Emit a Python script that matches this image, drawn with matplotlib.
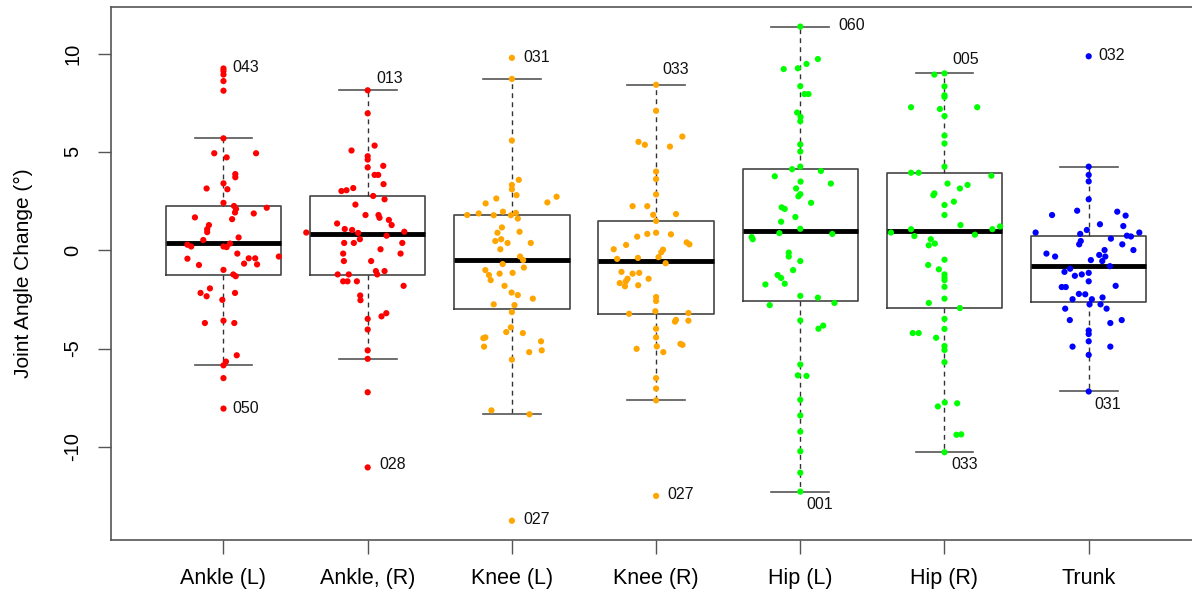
import matplotlib.pyplot as plt

plt.rcParams['font.family'] = ['Liberation Sans', 'DejaVu Sans']

groups = ['Ankle (L)', 'Ankle, (R)', 'Knee (L)', 'Knee (R)', 'Hip (L)', 'Hip (R)', 'Trunk']
colors = ['#ff0000', '#ff0000', '#ffa500', '#ffa500', '#00ff00', '#00ff00', '#0000ff']

# joint angle change per subject (deg), and the horizontal jitter of each dot
ankle_l = [9.24, 9.11, 8.93, 8.60, 8.11, 5.69, 4.93, 4.93, 4.72, 3.87, 3.71, 3.14, 3.40, 3.10,
           2.41, 2.25, 2.16, 2.10, 1.92, 1.87, 1.67, 1.58, 1.28, 1.07, 0.92, 0.65, 0.52, 0.28,
           0.19, 0.19, 0.16, 0.34, -0.17, -0.43, -0.41, -0.41, -0.32, -0.68, -0.72, -0.75,
           -1.00, -1.23, -1.32, -1.94, -2.17, -2.34, -2.17, -2.52, -3.70, -3.58, -3.70, -5.34,
           -5.66, -5.85, -6.50, -8.05]
ankle_l_jit = [0, 0, 0, 0, 0, 0, -0.064, 0.226, 0.022, 0.082, 0.082, -0.117, 0, 0.027,
               0, 0.073, 0.30, 0.087, 0.08, 0.21, -0.198, 0.06, -0.101, -0.113, -0.113, 0.105, -0.14, -0.25,
               -0.224, 0, 0.022, 0.045, 0.096, -0.25, 0.175, 0.22, 0.384, 0.143, 0.233, -0.17,
               0, 0.068, 0.085, -0.094, -0.159, -0.117, 0.08, -0.008, -0.129, 0, 0.075, 0.092,
               0.017, 0, 0, 0]

ankle_r = [8.13, 6.96, 5.32, 5.07, 4.78, 4.61, 4.21, 4.29, 3.83, 3.83, 3.36, 3.01, 3.05, 3.16,
           2.76, 2.59, 2.32, 1.79, 1.79, 1.65, 1.54, 1.28, 1.36, 1.08, 1.03, 0.88, 0.90, 0.94,
           0.74, 0.56, 0.37, 0.37, 0.37, 0.05, -0.17, -0.17, -0.55, -0.55, -1.06, -1.23, -1.06,
           -1.23, -1.23, -1.58, -1.58, -1.58, -1.81, -2.30, -2.54, -3.20, -3.36, -3.49, -4.03,
           -5.09, -5.52, -7.22, -11.04]
ankle_r_jit = [0, 0, 0.048, -0.112, 0, 0, 0, 0.108, 0.048, 0.073, 0.11, -0.182, -0.147, -0.10,
               0.038, 0.117, -0.085, -0.015, 0.075, 0.082, 0.147, 0.166, -0.212, -0.159, -0.108, -0.066, -0.426, 0.254,
               0.131, -0.054, -0.163, -0.096, 0.24, 0.089, -0.17, 0.228, -0.165, 0.024, 0.057, 0.066, 0.117,
               -0.208, -0.131, -0.17, -0.14, -0.075, 0.249, -0.052, -0.05, 0.129, 0.096, 0, 0,
               0, 0, 0, 0]

knee_l = [9.78, 8.71, 5.58, 3.58, 3.32, 3.10, 2.80, 2.63, 2.72, 2.43, 2.38, 1.79, 1.87, 1.78,
          1.96, 1.78, 1.90, 1.61, 1.16, 0.94, 0.89, 0.47, 0.56, 0.37, 0.37, 0.05, -0.32, -0.50,
          -0.70, -0.88, -1.01, -1.26, -1.19, -1.15, -1.52, -1.81, -2.15, -2.28, -2.46, -2.75,
          -2.79, -3.14, -3.92, -4.16, -4.21, -4.47, -4.43, -4.90, -4.63, -5.09, -5.18, -5.56,
          -8.14, -8.34, -13.75]
knee_l_jit = [0, 0, 0, 0.048, 0, 0, 0.032, -0.108, 0.31, 0.246, -0.182, -0.31, -0.23, -0.126,
              -0.062, -0.007, 0.028, 0.041, -0.069, 0.053, -0.10, -0.115, -0.074, -0.03, 0.131, -0.080, 0.057, 0.078,
              -0.064, 0.083, -0.184, -0.159, -0.085, 0.005, -0.147, -0.051, -0.002, 0.041, 0.145, -0.126,
              0.018, 0, -0.007, -0.039, 0.076, -0.198, -0.184, -0.193, 0.202, 0.207, 0.12, 0,
              -0.142, 0.122, 0]

knee_r = [8.41, 7.09, 5.78, 5.51, 5.36, 5.27, 4.00, 3.62, 2.84, 2.24, 2.24, 1.80, 1.84, 1.49,
          0.89, 0.83, 0.69, 0.81, 0.40, 0.30, 0.27, 0.05, 0.03, -0.10, -0.35, -0.44, -0.39, -0.66,
          -1.10, -1.19, -1.15, -1.45, -1.58, -1.67, -1.83, -1.78, -1.45, -2.38, -2.58, -3.23,
          -3.10, -3.19, -3.58, -3.63, -3.54, -3.99, -4.43, -4.89, -5.01, -5.18, -4.76, -4.81,
          -6.50, -7.03, -7.63, -12.49]
knee_r_jit = [0, 0, 0.182, -0.122, -0.078, 0.096, 0, 0, 0, -0.163, -0.061, -0.02, 0.138, 0,
              0, -0.061, -0.131, 0.103, 0.212, 0.231, -0.208, -0.294, 0.048, 0.036, 0.017, -0.27, -0.126, 0.066,
              -0.24, -0.163, -0.117, -0.198, -0.21, -0.252, -0.216, -0.124, -0.052, 0, 0, -0.187,
              -0.005, 0.224, 0.224, 0.131, 0.138, 0, 0, 0.005, -0.135, 0.05, 0.169, 0.183,
              0, 0, 0, 0]

hip_l = [11.37, 9.72, 9.21, 9.25, 9.47, 8.34, 7.94, 7.94, 7.00, 6.78, 6.56, 5.38, 5.02, 4.25,
         4.12, 4.03, 3.76, 3.49, 3.39, 3.14, 2.85, 2.74, 2.41, 2.18, 2.10, 1.69, 1.45, 1.09,
         0.87, 0.83, 0.67, 0.56, -0.12, -0.32, -0.55, -1.01, -1.26, -1.41, -1.70, -1.74,
         -2.32, -2.41, -2.68, -2.79, -3.57, -3.99, -3.83, -5.81, -6.36, -6.39, -7.60, -8.40,
         -9.22, -10.22, -11.31, -12.27]
hip_l_jit = [0, 0.122, -0.115, -0.017, 0.043, 0, 0.029, 0.057, -0.022, 0.002, 0, 0, 0, 0,
             -0.057, 0.143, -0.177, 0.002, 0.212, -0.029, 0, -0.013, 0.075, -0.129, -0.108, -0.034, -0.133, 0,
             -0.145, 0.222, -0.337, -0.33, -0.08, -0.08, 0, -0.05, -0.157, -0.133, -0.108, -0.242,
             0, 0.122, 0.237, -0.212, 0, 0.126, 0.159, 0, -0.017, 0.043, 0, 0,
             0, 0, 0, 0]

hip_r = [8.93, 8.99, 8.33, 7.88, 7.79, 7.27, 7.27, 7.18, 6.82, 5.83, 5.43, 4.25, 3.94, 3.94,
         3.79, 3.39, 3.32, 3.14, 2.89, 2.80, 2.47, 2.30, 1.79, 1.28, 1.21, 1.07, 1.07, 0.90,
         0.72, 0.79, 0.56, 0.34, 0.25, -0.48, -0.75, -0.97, -1.23, -1.39, -1.52, -1.86,
         -2.46, -2.68, -2.94, -3.49, -4.00, -4.21, -4.21, -4.45, -4.87, -5.07, -5.69, -7.74,
         -7.94, -7.78, -9.38, -9.36, -10.27]
hip_r_jit = [-0.07, 0, 0, 0, 0, -0.232, 0.227, -0.032, 0, 0, 0, 0, -0.232, -0.179,
             0.325, 0.021, 0.16, 0.107, -0.07, -0.077, 0.065, 0, 0, 0.111, 0.385, 0.332, -0.232, -0.371,
             -0.209, 0.211, -0.095, -0.067, -0.109, 0, -0.113, -0.039, 0, 0, 0, 0,
             0, -0.109, 0.107, 0, 0, -0.22, -0.179, -0.058, 0, 0, 0, 0.002,
             -0.046, 0.088, 0.083, 0.116, 0]

trunk = [9.86, 4.25, 3.83, 3.50, 2.59, 1.79, 2.01, 1.96, 1.76, 1.32, 1.23, 1.03, 0.90, 0.90,
         0.83, 0.74, 0.70, 0.59, 0.47, 0.30, 0.30, 0.01, 0.01, -0.17, -0.32, -0.24, -0.32, -0.50,
         -0.55, -0.81, -0.94, -1.10, -1.30, -1.23, -1.15, -1.58, -1.87, -1.87, -1.81, -2.22,
         -2.24, -2.49, -2.49, -2.40, -2.75, -2.75, -2.97, -2.97, -3.55, -3.55, -3.70, -4.08,
         -4.26, -4.63, -4.90, -4.90, -5.32, -7.18]
trunk_jit = [0, 0, 0, 0, 0, -0.254, -0.08, 0.198, 0.256, 0.078, 0.24, -0.013, -0.368, 0.351,
             -0.059, 0.265, 0.293, 0.154, -0.055, -0.066, 0.233, 0.31, 0.11, -0.293, -0.233, 0.073, 0.115, 0.015,
             0.094, 0.147, -0.129, -0.168, -0.096, -0.048, 0, 0, -0.187, -0.159, 0.187, -0.068,
             -0.024, -0.112, 0.022, 0.096, 0.006, 0.082, -0.163, 0.124, -0.131, 0.229, 0.15, 0,
             0, 0, -0.112, 0.15, 0, 0]

values = [ankle_l, ankle_r, knee_l, knee_r, hip_l, hip_r, trunk]
jitter = [ankle_l_jit, ankle_r_jit, knee_l_jit, knee_r_jit, hip_l_jit, hip_r_jit, trunk_jit]

# box statistics as drawn (R style hinges)
medians = [0.38, 0.81, -0.50, -0.55, 0.98, 0.98, -0.81]
q1 = [-1.26, -1.26, -3.01, -3.26, -2.57, -2.93, -2.61]
q3 = [2.23, 2.74, 1.79, 1.47, 4.14, 3.92, 0.74]
whis_lo = [-5.85, -5.52, -8.34, -7.63, -12.27, -10.27, -7.18]
whis_hi = [5.69, 8.13, 8.71, 8.41, 11.37, 8.99, 4.25]

# labelled subjects: group index, id, text position (x offset from group, y)
lab_group = [0, 0, 1, 1, 2, 2, 3, 3, 4, 4, 5, 5, 6, 6]
lab_text = ['043', '050', '013', '028', '031', '027', '033', '027', '060', '001', '005', '033', '032', '031']
lab_dx = [0.064, 0.059, 0.057, 0.078, 0.079, 0.079, 0.045, 0.078, 0.267, 0.04, 0.058, 0.05, 0.064, 0.038]
lab_y = [9.28, -8.03, 8.71, -10.91, 9.78, -13.68, 9.2, -12.40, 11.40, -12.94, 9.69, -10.91, 9.89, -7.82]

fig = plt.figure(figsize=(11.92, 5.94), dpi=100)
# the right edge of the plot box is cut off in the original
ax = fig.add_axes([111 / 1192, 54 / 594, (1220 - 111) / 1192, 532.7 / 594])

stats = []
for i in range(len(groups)):
    stats.append({'med': medians[i], 'q1': q1[i], 'q3': q3[i],
                  'whislo': whis_lo[i], 'whishi': whis_hi[i], 'fliers': []})

pos = list(range(1, len(groups) + 1))
ax.bxp(stats, positions=pos, widths=0.8, showfliers=False,
       boxprops=dict(color='#444444', linewidth=1.2),
       medianprops=dict(color='black', linewidth=3.5),
       whiskerprops=dict(color='#333333', linewidth=1.0, linestyle=(0, (3.5, 3))),
       capprops=dict(color='#555555', linewidth=1.2))

for i in range(len(groups)):
    xs = [pos[i] + j for j in jitter[i]]
    ax.scatter(xs, values[i], s=20, color=colors[i], edgecolors='none', zorder=3)

for g, t, dx, y in zip(lab_group, lab_text, lab_dx, lab_y):
    ax.text(pos[g] + dx, y, t, fontsize=11.5, ha='left', va='center', color='#111111')

ax.set_xlim(0.22, 1 + (1220 - 223.5) / 144.2)
ax.set_ylim(-14.73, 12.35)

ax.set_xticks(pos)
ax.set_xticklabels(groups, fontsize=15.5)
ax.set_yticks([-10, -5, 0, 5, 10])
ax.set_yticklabels(['-10', '-5', '0', '5', '10'], fontsize=14.5)
for lab in ax.get_yticklabels():
    lab.set_rotation(90)
    lab.set_va('center')

ax.tick_params(axis='x', length=10, width=1, color='#555555', pad=10)
ax.tick_params(axis='y', length=9.5, width=1, color='#555555', pad=11)
for sp in ax.spines.values():
    sp.set_color('#555555')
    sp.set_linewidth(1.2)

fig.text(23 / 1192, 1 - 273.6 / 594, 'Joint Angle Change (°)', rotation=90,
         ha='center', va='center', fontsize=15)

fig.savefig('out.png', dpi=100, facecolor='white')
